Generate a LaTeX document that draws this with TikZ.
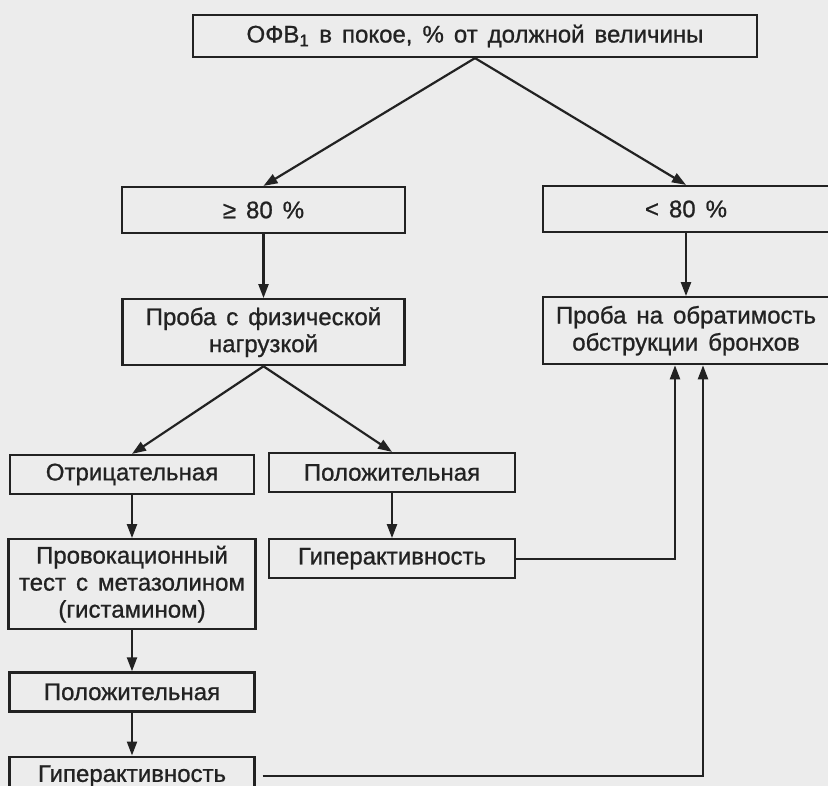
\documentclass[tikz,border=0pt]{standalone}
\usepackage{fontspec}
\setmainfont{Liberation Sans}[WordSpace=1.5, FakeBold=0.9]
\usetikzlibrary{positioning, arrows.meta}
\definecolor{paper}{RGB}{236,236,236}
\definecolor{ink}{RGB}{34,34,34}

\begin{document}
\begin{tikzpicture}[
  x=1pt, y=1pt,
  node distance=43pt,
  box/.style={draw=ink, line width=2.2pt, align=center, inner sep=0pt, text=ink,
    font=\fontsize{24}{27}\selectfont},
  arr/.style={draw=ink, line width=2.2pt, -{Triangle[length=14pt, width=10pt]}}
]
  \useasboundingbox (0,0) rectangle (828,-786);
  \fill[paper] (0,0) rectangle (828,-786);

  \node[box, minimum width=564pt, minimum height=42pt] (ofv) at (475,-36) {ОФВ\textsubscript{1} в покое, \% от должной величины};

  \node[box, minimum width=283pt, minimum height=46pt] (ge80) at (263.5,-210) {≥ 80 \%};
  \node[box, minimum width=282pt, minimum height=66pt, below=64pt of ge80] (fiz) {Проба с физической\\нагрузкой};
  \node[box, minimum width=286pt, minimum height=46pt] (lt80) at (686,-209) {< 80 \%};
  \node[box, minimum width=286pt, minimum height=67pt, below=63pt of lt80] (obr) {Проба на обратимость\\обструкции бронхов};

  \node[box, minimum width=244pt, minimum height=39pt] (neg) at (132,-474.5) {Отрицательная};
  \node[box, minimum width=247pt, minimum height=90pt, below=of neg] (prov) {Провокационный\\тест с метазолином\\(гистамином)};
  \node[box, minimum width=245pt, minimum height=39pt, below=41pt of prov] (pos2) {Положительная};
  \node[box, minimum width=245pt, minimum height=39pt, below=of pos2] (hyp2) {Гиперактивность};

  \node[box, minimum width=246pt, minimum height=39pt] (pos1) at (392,-472.5) {Положительная};
  \node[box, minimum width=246pt, minimum height=39pt, below=45pt of pos1] (hyp1) {Гиперактивность};

  \draw[arr] (ofv.south) -- (ge80.north);
  \draw[arr] (ofv.south) -- (lt80.north);
  \draw[arr] (ge80) -- (fiz);
  \draw[arr] (lt80) -- (obr);
  \draw[arr] (fiz.south) -- (neg.north);
  \draw[arr] (fiz.south) -- (pos1.north);
  \draw[arr] (neg) -- (prov);
  \draw[arr] (pos1) -- (hyp1);
  \draw[arr] (prov) -- (pos2);
  \draw[arr] (pos2) -- (hyp2);
  \draw[arr] (hyp1.east) -| ([xshift=-11pt]obr.south);
  \draw[arr, shorten <=7pt] (hyp2.east) -| ([xshift=17pt]obr.south);
\end{tikzpicture}
\end{document}
